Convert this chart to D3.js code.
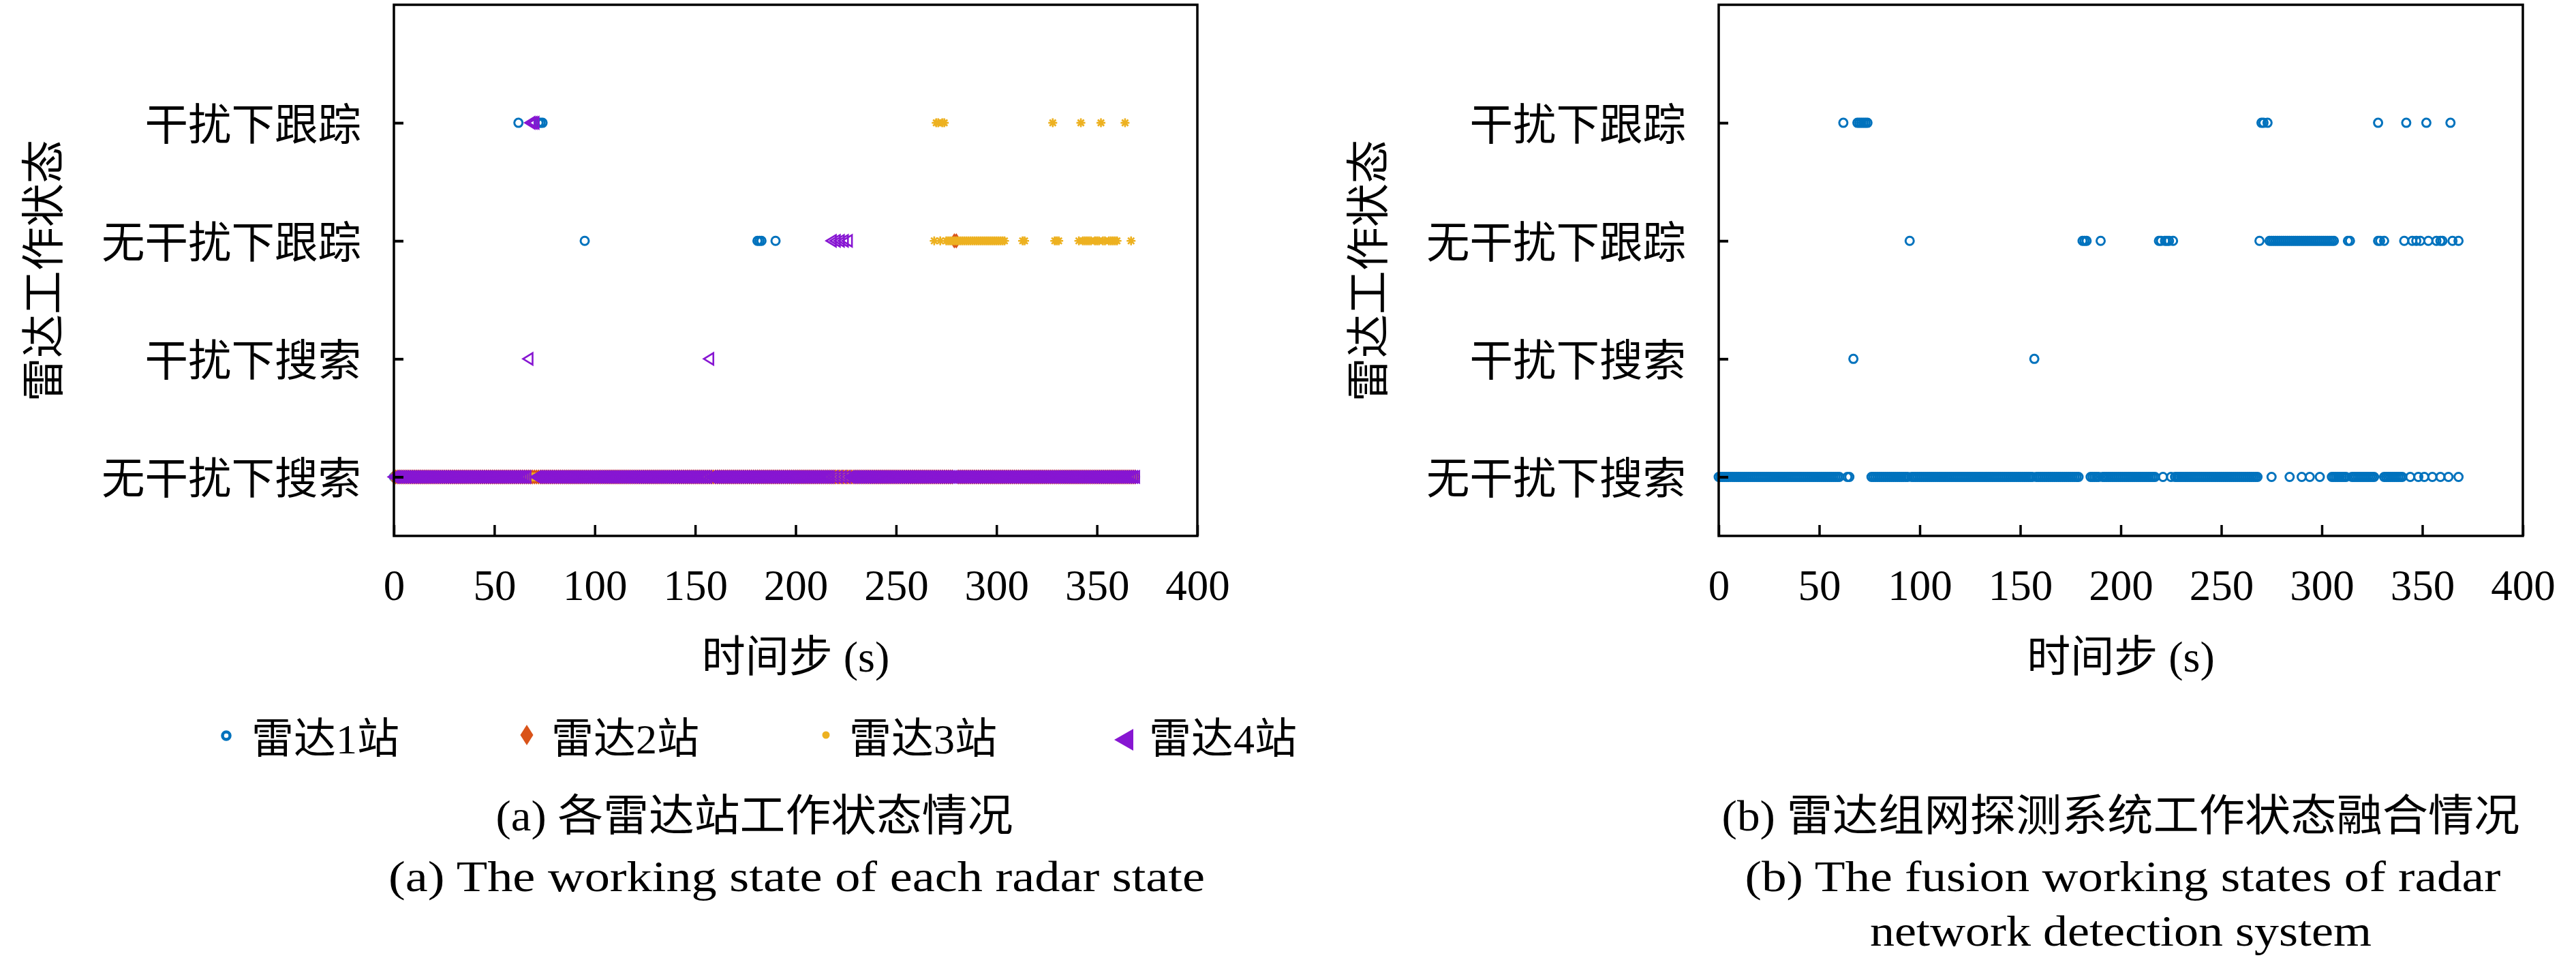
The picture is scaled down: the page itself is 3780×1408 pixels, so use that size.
<!DOCTYPE html>
<html>
<head>
<meta charset="utf-8">
<script src="https://cdn.jsdelivr.net/npm/d3@7"></script>
<style>
  html, body { margin: 0; padding: 0; background: #ffffff; }
  svg { display: block; }
</style>
</head>
<body>
<svg id="chart" width="3780" height="1408"></svg>
<script>
// ---------------- DATA ----------------
// y categories, bottom to top (index 0..3 -> y value 1..4)
const stateLabels = ["无干扰下搜索", "干扰下搜索", "无干扰下跟踪", "干扰下跟踪"];
const xTicks = [0, 50, 100, 150, 200, 250, 300, 350, 400];
const seriesNames = ["雷达1站", "雷达2站", "雷达3站", "雷达4站"];

// Each list holds runs [first, last] of time steps (s) spent in that state.
// Radar 1
const radar1Search    = [[0,61],[63,71],[75,94],[96,180],[184,189],[191,369]];
const radar1JamSearch = [];
const radar1Track     = [[95,95],[181,183],[190,190]];
const radar1JamTrack  = [[62,62],[72,74]];
// Radar 2
const radar2Search    = [[0,278],[281,369]];
const radar2JamSearch = [];
const radar2Track     = [[279,280]];
const radar2JamTrack  = [];
// Radar 3
const radar3Search    = [[0,268],[305,312],[315,327],[332,340],[361,366],[368,369]];
const radar3JamSearch = [];
const radar3Track     = [[269,269],[272,272],[275,304],[313,314],[329,331],[341,341],[343,347],[349,351],[353,354],[356,360],[367,367]];
const radar3JamTrack  = [[270,271],[273,274],[328,328],[342,342],[352,352],[364,364]];
// Radar 4
const radar4Search    = [[0,66],[71,156],[158,216],[217,217],[219,219],[221,221],[223,223],[225,225],[227,369]];
const radar4JamSearch = [[67,67],[157,157]];
const radar4Track     = [[218,218],[220,220],[222,222],[224,224],[226,226]];
const radar4JamTrack  = [[68,70]];
// Fused radar network
const fusedSearch    = [[0,60],[64,65],[76,94],[96,156],[158,179],[185,189],[191,217],[221,221],[225,225],[227,268],[275,275],[284,284],[290,290],[294,294],[299,299],[305,312],[315,326],[331,340],[344,344],[348,348],[351,351],[355,355],[359,359],[363,363],[368,368]];
const fusedJamSearch = [[67,67],[157,157]];
const fusedTrack     = [[95,95],[181,183],[190,190],[219,220],[222,224],[226,226],[269,269],[274,306],[313,314],[328,329],[331,331],[341,341],[345,345],[347,347],[349,349],[353,353],[357,357],[359,360],[365,365],[368,368]];
const fusedJamTrack  = [[62,62],[69,74],[270,271],[273,273],[328,328],[342,342],[352,352],[364,364]];

const captionA1 = "(a) 各雷达站工作状态情况";
const captionA2 = "(a) The working state of each radar state";
const captionB1 = "(b) 雷达组网探测系统工作状态融合情况";
const captionB2 = "(b) The fusion working states of radar";
const captionB3 = "network detection system";
const yTitle = "雷达工作状态";
const xTitle = "时间步 (s)";

// ---------------- helpers ----------------
function expand(runs, stateIdx) {
  const pts = [];
  runs.forEach(([a, b]) => d3.range(a, b + 1).forEach(t => pts.push({t, s: stateIdx + 1})));
  return pts;
}
function seriesPoints(search, jamSearch, track, jamTrack) {
  return [].concat(expand(search, 0), expand(jamSearch, 1), expand(track, 2), expand(jamTrack, 3));
}

const FONT = "'Liberation Serif', 'Noto Sans CJK SC', serif";
const colors = ["#0072BD", "#D95319", "#EDB120", "#8716D2"];

// marker shapes (path strings centred on 0,0)
const shapes = {
  circle: "M6,0A6,6 0 1,1 -6,0A6,6 0 1,1 6,0Z",
  diamond: "M0,-9L6,0L0,9L-6,0Z",
  asterisk: "M-6.5,0L6.5,0M0,-6.5L0,6.5M-4.6,-4.6L4.6,4.6M-4.6,4.6L4.6,-4.6",
  triangleLeft: "M-8,0L6,-8.5L6,8.5Z"
};

const svg = d3.select("#chart");
svg.append("rect").attr("width", 3780).attr("height", 1408).attr("fill", "#fff");

function drawPanel(x0, x1, series) {
  const top = 7, bottom = 786;
  const x = d3.scaleLinear().domain([0, 400]).range([x0, x1]);
  const y = d3.scaleLinear().domain([0.5, 5]).range([bottom, top]);
  const g = svg.append("g");

  // markers
  series.forEach(sr => {
    g.append("g")
      .selectAll("path")
      .data(sr.points)
      .join("path")
      .attr("d", shapes[sr.shape])
      .attr("transform", d => `translate(${x(d.t)},${y(d.s)})`)
      .attr("fill", "none")
      .attr("stroke", sr.color)
      .attr("stroke-width", sr.sw);
  });

  // x axis
  const xa = g.append("g")
    .attr("transform", `translate(0,${bottom})`)
    .call(d3.axisBottom(x).tickValues(xTicks).tickFormat(d3.format("d")).tickSize(-16).tickPadding(49));
  xa.attr("font-family", FONT).attr("font-size", 63);
  xa.select(".domain").remove();
  xa.selectAll(".tick line").attr("stroke", "#000").attr("stroke-width", 3.5);
  xa.selectAll(".tick text").attr("fill", "#000");

  // y axis
  const ya = g.append("g")
    .attr("transform", `translate(${x0},0)`)
    .call(d3.axisLeft(y).tickValues([1, 2, 3, 4]).tickFormat(d => stateLabels[d - 1]).tickSize(-14).tickPadding(48));
  ya.attr("font-family", FONT).attr("font-size", 63.5);
  ya.select(".domain").remove();
  ya.selectAll(".tick line").attr("stroke", "#000").attr("stroke-width", 4);
  ya.selectAll(".tick text").attr("fill", "#000").attr("dy", "0.38em");

  // frame
  g.append("rect")
    .attr("x", x0).attr("y", top)
    .attr("width", x1 - x0).attr("height", bottom - top)
    .attr("fill", "none").attr("stroke", "#000").attr("stroke-width", 3.5);

  // axis titles
  g.append("text")
    .attr("x", (x0 + x1) / 2).attr("y", 963)
    .attr("text-anchor", "middle").attr("dominant-baseline", "central")
    .attr("font-family", FONT).attr("font-size", 64)
    .text(xTitle);
  g.append("text")
    .attr("transform", `translate(${x0 - 514},397) rotate(-90)`)
    .attr("text-anchor", "middle").attr("dominant-baseline", "central")
    .attr("font-family", FONT).attr("font-size", 64)
    .text(yTitle);
}

// left panel: four radars
drawPanel(578, 1757, [
  {points: seriesPoints(radar1Search, radar1JamSearch, radar1Track, radar1JamTrack), shape: "circle", color: colors[0], sw: 3},
  {points: seriesPoints(radar2Search, radar2JamSearch, radar2Track, radar2JamTrack), shape: "diamond", color: colors[1], sw: 2.5},
  {points: seriesPoints(radar3Search, radar3JamSearch, radar3Track, radar3JamTrack), shape: "asterisk", color: colors[2], sw: 2.6},
  {points: seriesPoints(radar4Search, radar4JamSearch, radar4Track, radar4JamTrack), shape: "triangleLeft", color: colors[3], sw: 2.6}
]);

// right panel: fused
drawPanel(2522, 3702, [
  {points: seriesPoints(fusedSearch, fusedJamSearch, fusedTrack, fusedJamTrack), shape: "circle", color: colors[0], sw: 3}
]);

// legend
const legend = svg.append("g");
const legendMarkers = [
  {x: 332, y: 1079, d: "M5.5,0A5.5,5.5 0 1,1 -5.5,0A5.5,5.5 0 1,1 5.5,0Z", fill: "#fff", stroke: colors[0], sw: 4.5},
  {x: 773, y: 1078, d: "M0,-15L9.5,0L0,15L-9.5,0Z", fill: colors[1], stroke: "none", sw: 0},
  {x: 1212, y: 1078, d: "M5.5,0A5.5,5.5 0 1,1 -5.5,0A5.5,5.5 0 1,1 5.5,0Z", fill: colors[2], stroke: "none", sw: 0},
  {x: 1650, y: 1085, d: "M-15,0L13,-16L13,16Z", fill: colors[3], stroke: "none", sw: 0}
];
const legendTextX = [369, 809, 1246, 1686];
seriesNames.forEach((name, i) => {
  const m = legendMarkers[i];
  legend.append("path")
    .attr("d", m.d)
    .attr("transform", `translate(${m.x},${m.y})`)
    .attr("fill", m.fill).attr("stroke", m.stroke).attr("stroke-width", m.sw);
  legend.append("text")
    .attr("x", legendTextX[i]).attr("y", 1084)
    .attr("dominant-baseline", "central")
    .attr("font-family", FONT).attr("font-size", 62)
    .text(name);
});

// captions
const captions = [
  {text: captionA1, cx: 1107, y: 1196, w: 759},
  {text: captionA2, cx: 1169, y: 1285, w: 1198},
  {text: captionB1, cx: 3112, y: 1196, w: 1171},
  {text: captionB2, cx: 3115, y: 1285, w: 1109},
  {text: captionB3, cx: 3112, y: 1365, w: 736}
];
captions.forEach(c => {
  svg.append("text")
    .attr("x", c.cx - c.w / 2).attr("y", c.y)
    .attr("dominant-baseline", "central")
    .attr("font-family", FONT).attr("font-size", 64)
    .attr("textLength", c.w).attr("lengthAdjust", "spacingAndGlyphs")
    .text(c.text);
});
</script>
</body>
</html>
